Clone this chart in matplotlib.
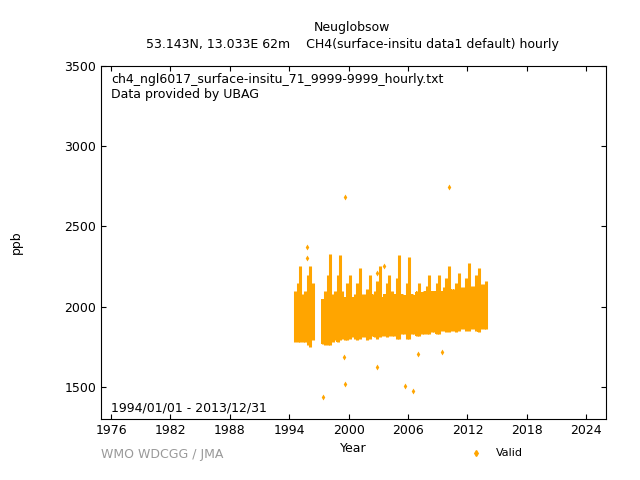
import numpy as np
import matplotlib
matplotlib.use("Agg")
import matplotlib.pyplot as plt

# quarterly envelope of hourly values (start year, low, high)
q_start = np.arange(1994.5, 2014.0, 0.25)
q_low = [1780, 1780, 1780, 1780, 1780, 1760, 1750, 1790,
         np.nan, np.nan, np.nan,
         1770, 1760, 1760, 1760, 1780, 1790, 1780, 1790,
         1800, 1790, 1790, 1800, 1810, 1800, 1790, 1800,
         1810, 1810, 1790, 1800, 1820, 1810, 1800, 1810,
         1820, 1820, 1810, 1820, 1820, 1820, 1800, 1800,
         1830, 1830, 1800, 1800, 1830, 1830, 1820, 1820,
         1830, 1830, 1830, 1830, 1840, 1840, 1830, 1830,
         1850, 1850, 1840, 1840, 1850, 1850, 1840, 1850,
         1860, 1860, 1850, 1850, 1860, 1860, 1850, 1840,
         1860, 1860, 1860]
q_high = [2100, 2150, 2250, 2080, 2100, 2200, 2250, 2150,
          np.nan, np.nan, np.nan,
          2050, 2100, 2200, 2330, 2080, 2100, 2200, 2320,
          2100, 2060, 2150, 2200, 2060, 2080, 2150, 2240,
          2080, 2080, 2110, 2200, 2080, 2100, 2160, 2250,
          2060, 2080, 2150, 2200, 2100, 2080, 2180, 2320,
          2080, 2070, 2150, 2310, 2080, 2070, 2100, 2150,
          2090, 2100, 2130, 2200, 2100, 2100, 2150, 2200,
          2100, 2120, 2180, 2250, 2110, 2110, 2150, 2210,
          2120, 2120, 2180, 2270, 2130, 2130, 2200, 2240,
          2140, 2140, 2160]
# upper edge of the dense body of hourly values
body_top = 2040

# isolated points
out_t = [1999.6, 2010.1, 1995.8, 1995.8, 2002.9, 2003.6,
         1997.4, 1999.6, 1999.5, 2002.9, 2006.5, 2005.7, 2007.0, 2009.4]
out_v = [2684, 2745, 2372, 2303, 2210, 2254,
         1438, 1519, 1687, 1625, 1475, 1506, 1706, 1718]

col = "#FFA500"
fig = plt.figure(figsize=(6.4, 4.8), dpi=100)
ax = fig.add_axes([0.158, 0.127, 0.789, 0.736])
n = min(len(q_start), len(q_low), len(q_high))
for t, lo, hi in zip(q_start[:n], q_low[:n], q_high[:n]):
    if np.isnan(lo):
        continue
    top = min(hi, body_top + (t - 1994) * 4)
    ax.fill_between([t, t + 0.25], lo, top, color=col, lw=0)
    ax.fill_between([t + 0.06, t + 0.19], lo, (top + hi) / 2, color=col, lw=0)
    ax.vlines(t + 0.125, lo, hi, color=col, lw=2.2)
ax.plot(out_t, out_v, "d", color=col, ms=3, mew=0)
ax.plot([], [], "d", color=col, ms=3, label="Valid")

ax.set_xlim(1975, 2026)
ax.set_ylim(1300, 3500)
ax.set_xticks(np.arange(1976, 2025, 6))
ax.set_yticks(np.arange(1500, 3501, 500))
ax.tick_params(direction="in", labelsize=9, top=True, right=True)
ax.set_xlabel("Year", fontsize=9)
ax.set_ylabel("ppb", fontsize=9, labelpad=30)
ax.text(0.02, 0.98, "ch4_ngl6017_surface-insitu_71_9999-9999_hourly.txt\nData provided by UBAG",
        transform=ax.transAxes, va="top", fontsize=9)
ax.text(0.02, 0.02, "1994/01/01 - 2013/12/31", transform=ax.transAxes, fontsize=9)
fig.text(0.55, 0.935, "Neuglobsow", ha="center", fontsize=9)
fig.text(0.55, 0.9, "53.143N, 13.033E 62m    CH4(surface-insitu data1 default) hourly",
         ha="center", fontsize=9)
fig.text(0.158, 0.045, "WMO WDCGG / JMA", color="#999999", fontsize=9)
ax.legend(loc="upper left", bbox_to_anchor=(0.7, -0.055), frameon=False, fontsize=8)
fig.savefig("out.png")
